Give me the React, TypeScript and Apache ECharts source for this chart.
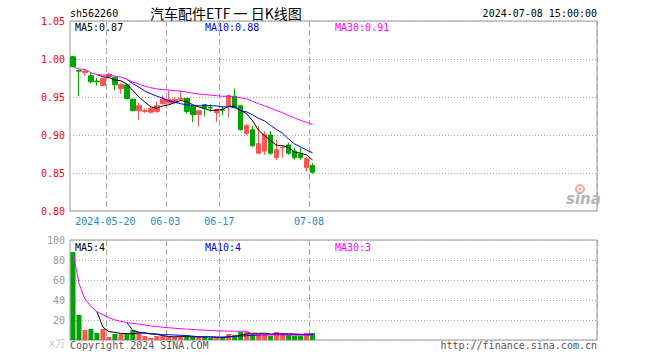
import React, { useEffect, useRef } from "react";
import * as echarts from "echarts";

const dates = [
  "2024-05-10", "2024-05-13", "2024-05-14", "2024-05-15", "2024-05-16", "2024-05-17",
  "2024-05-20", "2024-05-21", "2024-05-22", "2024-05-23", "2024-05-24",
  "2024-05-27", "2024-05-28", "2024-05-29", "2024-05-30", "2024-05-31",
  "2024-06-03", "2024-06-04", "2024-06-05", "2024-06-06", "2024-06-07",
  "2024-06-11", "2024-06-12", "2024-06-13", "2024-06-14",
  "2024-06-17", "2024-06-18", "2024-06-19", "2024-06-20", "2024-06-21",
  "2024-06-24", "2024-06-25", "2024-06-26", "2024-06-27", "2024-06-28",
  "2024-07-01", "2024-07-02", "2024-07-03", "2024-07-04", "2024-07-05",
  "2024-07-08",
];
const opens = [
  1.003, 0.985, 0.982, 0.978, 0.971, 0.965, 0.977, 0.976, 0.961, 0.966, 0.947,
  0.932, 0.931, 0.930, 0.931, 0.941, 0.942, 0.9425, 0.947, 0.948, 0.9376,
  0.9267, 0.940, 0.9363, 0.9293, 0.933, 0.939, 0.951, 0.9386, 0.9017,
  0.907, 0.876, 0.8787, 0.900, 0.8701, 0.883, 0.887, 0.879, 0.875, 0.857, 0.860,
];
const highs = [
  1.004, 0.986, 0.987, 0.982, 0.975, 0.975, 0.982, 0.977, 0.968, 0.967, 0.948,
  0.942, 0.935, 0.937, 0.944, 0.952, 0.958, 0.950, 0.958, 0.949, 0.938,
  0.933, 0.941, 0.940, 0.934, 0.938, 0.952, 0.961, 0.939, 0.9147,
  0.912, 0.912, 0.905, 0.905, 0.894, 0.887, 0.890, 0.883, 0.8837, 0.871, 0.863,
];
const lows = [
  0.989, 0.951, 0.978, 0.968, 0.965, 0.964, 0.9745, 0.959, 0.954, 0.947, 0.931,
  0.920, 0.929, 0.928, 0.929, 0.941, 0.941, 0.941, 0.945, 0.928, 0.917,
  0.911, 0.9245, 0.931, 0.917, 0.926, 0.923, 0.935, 0.906, 0.900,
  0.884, 0.875, 0.874, 0.874, 0.867, 0.870, 0.874, 0.8675, 0.8675, 0.852, 0.849,
];
const closes = [
  0.990, 0.984, 0.984, 0.970, 0.970, 0.9745, 0.980, 0.966, 0.9666, 0.948, 0.932,
  0.9386, 0.932, 0.935, 0.9386, 0.947, 0.9464, 0.9468, 0.948, 0.931, 0.9267,
  0.932, 0.9355, 0.9355, 0.9337, 0.9325, 0.952, 0.936, 0.907, 0.9126,
  0.886, 0.8886, 0.901, 0.876, 0.8807, 0.884, 0.876, 0.870, 0.870, 0.869, 0.851,
];
const volumes = [
  88, 25, 10, 11, 7, 11, 3, 6, 6, 6, 10,
  8, 4, 2, 4, 4, 3, 3, 3, 4, 3,
  3, 3, 2, 2, 3, 6, 5, 8, 8,
  7, 5, 6, 4, 8, 6, 5, 4, 4, 7, 7,
];
const labelDates = ["2024-05-20", "2024-06-03", "2024-06-17", "2024-07-08"];
const priceTicks = { min: 0.8, max: 1.05, step: 0.05 };
const volTicks = { min: 0, max: 100, step: 20 };
const headerCode = "sh562260";
const headerTitle = "汽车配件ETF 一 日K线图";
const headerTime = "2024-07-08 15:00:00";
const priceLegend = ["MA5:0.87", "MA10:0.88", "MA30:0.91"];
const volLegend = ["MA5:4", "MA10:4", "MA30:3"];
const TOTAL_SLOTS = 88;

const RED = "#ff5555";
const GREEN = "#00a400";
const MONO = '"DejaVu Sans Mono", "Liberation Mono", monospace';

function movingAverage(vals: number[], n: number, fromStart: boolean) {
  return vals.map((_, i) => {
    if (i < n - 1 && !fromStart) return "-";
    const s = Math.max(0, i - n + 1);
    let sum = 0;
    for (let k = s; k <= i; k++) sum += vals[k];
    return +(sum / (i - s + 1)).toFixed(4);
  });
}

export default function App() {
  const ref = useRef<HTMLDivElement>(null);
  useEffect(() => {
    if (!ref.current) return;
    const chart = echarts.init(ref.current, null, { renderer: "svg" });
    const cats = [
      ...dates,
      ...Array.from({ length: TOTAL_SLOTS - dates.length }, (_, i) => "pad" + i),
    ];
    const labelIdx = labelDates.map((d) => dates.indexOf(d));
    const showAt = (index: number) => labelIdx.includes(index);
    const candleData = dates.map((_, i) => [opens[i], closes[i], lows[i], highs[i]]);
    const volData = volumes.map((v, i) => ({
      value: v,
      itemStyle: { color: closes[i] >= opens[i] ? RED : GREEN },
    }));
    const lineCommon = {
      type: "line",
      showSymbol: false,
      symbol: "none",
      lineStyle: { width: 1 },
      silent: true,
    };
    const splitX = {
      show: true,
      interval: (index: number) => showAt(index),
      lineStyle: { color: "#aaa", type: [6, 3], width: 1 },
    };
    const txt = (text: string, x: number, y: number, fill: string, align = "left", font = `10px ${MONO}`) => ({
      type: "text",
      silent: true,
      style: { text, x, y, fill, font, textAlign: align, align, textVerticalAlign: "middle", verticalAlign: "middle" },
    });
    const legendColors = ["#000000", "#0000ff", "#ff00ff"];
    const legendX = [75, 205, 335];

    chart.setOption({
      animation: false,
      backgroundColor: "#ffffff",
      textStyle: { fontFamily: MONO },
      grid: [
        { left: 70, top: 21, width: 527, height: 190, show: true, borderColor: "#999", borderWidth: 1, backgroundColor: "transparent" },
        { left: 70, top: 240, width: 527, height: 100, show: true, borderColor: "#999", borderWidth: 1, backgroundColor: "transparent" },
      ],
      xAxis: [
        {
          type: "category",
          gridIndex: 0,
          data: cats,
          boundaryGap: true,
          axisLine: { show: false },
          axisTick: { show: false },
          axisLabel: {
            interval: (index: number) => showAt(index),
            formatter: (v: string, index: number) => (index === labelIdx[0] ? v : v.slice(5)),
            color: "#1a8ad4",
            fontFamily: MONO,
            fontSize: 10,
            margin: 5,
            padding: [0, 7, 0, 0],
          },
          splitLine: splitX,
        },
        {
          type: "category",
          gridIndex: 1,
          data: cats,
          boundaryGap: true,
          axisLine: { show: false },
          axisTick: { show: false },
          axisLabel: { show: false },
          splitLine: splitX,
        },
      ],
      yAxis: [
        {
          type: "value",
          gridIndex: 0,
          position: "left",
          min: priceTicks.min,
          max: priceTicks.max,
          interval: priceTicks.step,
          axisLine: { show: false },
          axisTick: { show: false },
          axisLabel: {
            show: true,
            formatter: (v: number) => v.toFixed(2),
            color: "#ff0000",
            fontFamily: MONO,
            fontSize: 10,
            margin: 5,
          },
          splitLine: { show: true, lineStyle: { color: "#aaa", type: [1, 2], width: 1 } },
        },
        {
          type: "value",
          gridIndex: 1,
          position: "left",
          min: volTicks.min,
          max: volTicks.max,
          interval: volTicks.step,
          axisLine: { show: false },
          axisTick: { show: false },
          axisLabel: {
            formatter: (v: number) => (v === 0 ? "{u|x万}" : "{g|" + v + "}"),
            color: "#999999",
            fontFamily: MONO,
            fontSize: 10,
            margin: 5,
            rich: {
              g: { color: "#999999", fontFamily: MONO, fontSize: 10 },
              u: { color: "#c4c4c4", fontFamily: MONO, fontSize: 10, padding: [6, 0, 0, 0] },
            },
          },
          splitLine: { show: true, lineStyle: { color: "#aaa", type: [1, 2], width: 1 } },
        },
      ],
      series: [
        {
          type: "candlestick",
          xAxisIndex: 0,
          yAxisIndex: 0,
          data: candleData,
          barWidth: 5,
          silent: true,
          itemStyle: { color: RED, color0: GREEN, borderColor: RED, borderColor0: GREEN, borderWidth: 1 },
        },
        { ...lineCommon, xAxisIndex: 0, yAxisIndex: 0, data: movingAverage(closes, 5, false), lineStyle: { width: 1, color: "#000" }, itemStyle: { color: "#000" } },
        { ...lineCommon, xAxisIndex: 0, yAxisIndex: 0, data: movingAverage(closes, 10, false), lineStyle: { width: 1, color: "#0000ff" }, itemStyle: { color: "#0000ff" } },
        { ...lineCommon, xAxisIndex: 0, yAxisIndex: 0, data: movingAverage(closes, 30, true), lineStyle: { width: 1, color: "#ff00ff" }, itemStyle: { color: "#ff00ff" } },
        {
          type: "bar",
          xAxisIndex: 1,
          yAxisIndex: 1,
          data: volData,
          barWidth: 5,
          silent: true,
        },
        { ...lineCommon, xAxisIndex: 1, yAxisIndex: 1, data: movingAverage(volumes, 5, false), lineStyle: { width: 1, color: "#000" }, itemStyle: { color: "#000" } },
        { ...lineCommon, xAxisIndex: 1, yAxisIndex: 1, data: movingAverage(volumes, 10, false), lineStyle: { width: 1, color: "#0000ff" }, itemStyle: { color: "#0000ff" } },
        { ...lineCommon, xAxisIndex: 1, yAxisIndex: 1, data: movingAverage(volumes, 30, true), lineStyle: { width: 1, color: "#ff00ff" }, itemStyle: { color: "#ff00ff" } },
      ],
      graphic: [
        txt(headerCode, 70, 13, "#000"),
        txt(headerTitle, 150, 13, "#000", "left", '14px "Noto Sans CJK SC", sans-serif'),
        txt(headerTime, 597, 13, "#000", "right"),
        ...priceLegend.map((t, i) => txt(t, legendX[i], 27, legendColors[i])),
        ...volLegend.map((t, i) => txt(t, legendX[i], 247, legendColors[i])),
        txt("Copyright 2024 SINA.COM", 70, 345, "#555"),
        txt("http://finance.sina.com.cn", 597, 345, "#555", "right"),
        {
          type: "ring",
          silent: true,
          shape: { cx: 580, cy: 189, r: 5, r0: 3 },
          style: { fill: "#f7a8a8" },
        },
        {
          type: "circle",
          silent: true,
          shape: { cx: 580, cy: 189, r: 1.5 },
          style: { fill: "#f7a8a8" },
        },
        {
          type: "text",
          silent: true,
          style: {
            text: "sina",
            x: 566,
            y: 199,
            fill: "#b4b4b4",
            font: 'italic bold 15px "DejaVu Sans", sans-serif',
            textAlign: "left",
            align: "left",
            textVerticalAlign: "middle",
            verticalAlign: "middle",
          },
        },
      ],
    });
    return () => chart.dispose();
  }, []);
  return (
    <div
      ref={ref}
      style={{ position: "fixed", left: 0, top: 0, width: 660, height: 360, background: "#fff" }}
    />
  );
}
